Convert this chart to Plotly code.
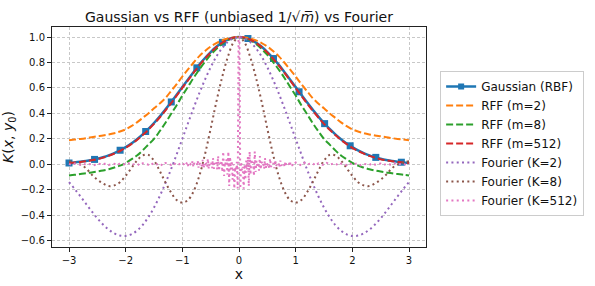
import numpy as np
import plotly.graph_objects as go

# ---- data ----
X_HALF = [round(0.1 * i, 1) for i in range(31)]  # 0.0 .. 3.0

GAUSS_HALF = [1.000, 0.995, 0.980, 0.956, 0.923, 0.882, 0.835, 0.783, 0.726, 0.667,
              0.607, 0.546, 0.487, 0.430, 0.375, 0.325, 0.278, 0.236, 0.198, 0.164,
              0.135, 0.110, 0.089, 0.071, 0.056, 0.044, 0.034, 0.026, 0.020, 0.015, 0.011]

GAUSS_MARK_X = [-3.0, -2.549, -2.098, -1.647, -1.195, -0.744, -0.293, 0.158, 0.609,
                1.060, 1.511, 1.962, 2.414, 2.865]
GAUSS_MARK_Y = [0.011, 0.039, 0.111, 0.258, 0.490, 0.758, 0.958, 0.988, 0.831,
                0.570, 0.320, 0.146, 0.055, 0.017]

RFF2_HALF = [1.000, 0.997, 0.988, 0.973, 0.952, 0.925, 0.890, 0.850, 0.800, 0.745,
             0.690, 0.630, 0.575, 0.520, 0.478, 0.440, 0.400, 0.365, 0.330, 0.300,
             0.275, 0.258, 0.245, 0.235, 0.227, 0.220, 0.213, 0.206, 0.200, 0.195, 0.190]

RFF8_HALF = [1.000, 0.990, 0.975, 0.945, 0.905, 0.860, 0.805, 0.745, 0.680, 0.610,
             0.540, 0.465, 0.395, 0.325, 0.260, 0.200, 0.155, 0.110, 0.070, 0.040,
             0.012, -0.010, -0.025, -0.038, -0.048, -0.056, -0.063, -0.070, -0.076,
             -0.082, -0.087]

RFF512_HALF = [1.000, 0.995, 0.979, 0.954, 0.920, 0.878, 0.830, 0.777, 0.720, 0.660,
               0.600, 0.539, 0.479, 0.422, 0.368, 0.318, 0.272, 0.230, 0.192, 0.159,
               0.130, 0.105, 0.085, 0.067, 0.053, 0.041, 0.032, 0.025, 0.019, 0.014, 0.011]

FOUR2_HALF = [1.000, 0.990, 0.960, 0.911, 0.845, 0.762, 0.666, 0.559, 0.444, 0.323,
              0.201, 0.079, -0.039, -0.149, -0.250, -0.339, -0.415, -0.476, -0.520,
              -0.549, -0.562, -0.559, -0.542, -0.512, -0.472, -0.423, -0.368, -0.309,
              -0.250, -0.193, -0.139]

FOUR8_HALF = [1.000, 0.955, 0.840, 0.680, 0.490, 0.280, 0.080, -0.090, -0.210, -0.280,
              -0.300, -0.280, -0.220, -0.140, -0.050, 0.030, 0.075, 0.070, 0.030, -0.030,
              -0.090, -0.140, -0.165, -0.170, -0.150, -0.120, -0.080, -0.030, 0.000,
              0.015, 0.025]

GRID400 = np.linspace(-3, 3, 400)
PINK_X_IN = list(GRID400[200:261])
PINK_IN = [1.0, -0.19, 0.02, -0.05, -0.02, -0.19, 0.0, -0.12, 0.03, -0.04,
           0.06, -0.17, 0.10, -0.08, 0.04, 0.0, 0.02, -0.09, 0.10, -0.06,
           0.03, -0.01, 0.01, -0.05, 0.065, -0.04, 0.02, 0.0, 0.01, -0.035,
           0.05, -0.03, 0.01, 0.0, 0.01, -0.035, 0.045, -0.02, 0.005, 0.0,
           0.01, -0.03, 0.035, -0.015, 0.005, 0.0, 0.01, -0.025, 0.03, -0.01,
           0.0, 0.0, 0.01, -0.02, 0.025, -0.01, 0.0, 0.005, 0.005, -0.015, 0.02]
PINK_X_OUT = [round(0.95 + 0.05 * i, 2) for i in range(42)]
PINK_OUT = [-0.012, 0.014, 0.002, -0.008, 0.012, -0.004, 0.006, 0.010, -0.010, 0.008,
            0.000, -0.006, 0.012, -0.002, 0.004, 0.009, -0.008, 0.006, 0.002, -0.005,
            0.010, -0.003, 0.004, 0.008, -0.007, 0.005, 0.001, -0.004, 0.009, -0.002,
            0.003, 0.007, -0.006, 0.004, 0.001, -0.004, 0.008, -0.002, 0.003, 0.006,
            -0.005, 0.004]

X_TICKS = [-3, -2, -1, 0, 1, 2, 3]
Y_TICKS = [-0.6, -0.4, -0.2, 0.0, 0.2, 0.4, 0.6, 0.8, 1.0]


def mirror(xh, yh):
    if xh[0] == 0:
        xs = [-v for v in xh[::-1]] + list(xh[1:])
        ys = list(yh[::-1]) + list(yh[1:])
    else:
        xs = [-v for v in xh[::-1]] + list(xh)
        ys = list(yh[::-1]) + list(yh)
    return xs, ys


FONT = "DejaVu Sans"
fig = go.Figure()

# legend-only entry for Gaussian
fig.add_trace(go.Scatter(x=[None], y=[None], mode="lines+markers", name="Gaussian (RBF)",
                         line=dict(color="#1f77b4", width=2.5),
                         marker=dict(symbol="square", size=6, color="#1f77b4")))

gx, gy = mirror(X_HALF, GAUSS_HALF)
fig.add_trace(go.Scatter(x=gx, y=gy, mode="lines", showlegend=False,
                         line=dict(color="#1f77b4", width=2.5, shape="spline")))
fig.add_trace(go.Scatter(x=GAUSS_MARK_X, y=GAUSS_MARK_Y, mode="markers", showlegend=False,
                         marker=dict(symbol="square", size=7, color="#1f77b4")))

DASH = "7px,3px"
DOT = "2px,3.3px"
for name, half, col in [("RFF (m=2)", RFF2_HALF, "#ff7f0e"),
                        ("RFF (m=8)", RFF8_HALF, "#2ca02c"),
                        ("RFF (m=512)", RFF512_HALF, "#d62728")]:
    xx, yy = mirror(X_HALF, half)
    fig.add_trace(go.Scatter(x=xx, y=yy, mode="lines", name=name,
                             line=dict(color=col, width=2, dash=DASH, shape="spline")))

for name, half, col in [("Fourier (K=2)", FOUR2_HALF, "#9467bd"),
                        ("Fourier (K=8)", FOUR8_HALF, "#8c564b")]:
    xx, yy = mirror(X_HALF, half)
    fig.add_trace(go.Scatter(x=xx, y=yy, mode="lines", name=name,
                             line=dict(color=col, width=2, dash=DOT, shape="spline")))

pxh = PINK_X_IN + PINK_X_OUT
pyh = PINK_IN + PINK_OUT
px_full, py_full = mirror(pxh, pyh)
fig.add_trace(go.Scatter(x=px_full, y=py_full, mode="lines", name="Fourier (K=512)",
                         line=dict(color="#e377c2", width=2, dash=DOT)))

axis_common = dict(showline=True, mirror=True, linecolor="#222", linewidth=1,
                   ticks="outside", ticklen=4, tickcolor="#222", showgrid=True,
                   gridcolor="#c8c8c8", griddash="3px,2px", gridwidth=0.8,
                   zeroline=False, automargin=False,
                   tickfont=dict(family=FONT, size=10, color="#111"))

fig.update_xaxes(range=[-3.3, 3.3], tickvals=X_TICKS,
                 ticktext=[str(v).replace("-", "\u2212") for v in X_TICKS],
                 title=dict(text="x", font=dict(family=FONT, size=14, color="#111"), standoff=4),
                 **axis_common)
fig.update_yaxes(range=[-0.6485, 1.0785], tickvals=Y_TICKS,
                 ticktext=[f"{v:.1f}".replace("-", "\u2212") for v in Y_TICKS],
                 title=dict(text="<i>K</i>(<i>x</i>, <i>y</i><sub>0</sub>)",
                            font=dict(family=FONT, size=14, color="#111"), standoff=8),
                 **axis_common)

fig.update_layout(
    width=595, height=286,
    margin=dict(l=52, r=168, t=27, b=39),
    paper_bgcolor="white", plot_bgcolor="white",
    font=dict(family=FONT, color="#111"),
    title=dict(text="Gaussian vs RFF (unbiased 1/\u221a<i>m\u0305</i>) vs Fourier",
               x=0.5, xref="paper", xanchor="center",
               y=1 - 17 / 286, yref="container", yanchor="middle",
               font=dict(family=FONT, size=14, color="#111")),
    legend=dict(x=1.035, xanchor="left", y=0.80, yanchor="top",
                bordercolor="#cccccc", borderwidth=1, bgcolor="white",
                font=dict(family=FONT, size=12, color="#111"),
                tracegroupgap=0, itemwidth=30),
    showlegend=True,
)

fig.write_html("out.html", config={"displayModeBar": False},
               post_script="document.body.style.margin='0';document.body.style.overflow='hidden';")
